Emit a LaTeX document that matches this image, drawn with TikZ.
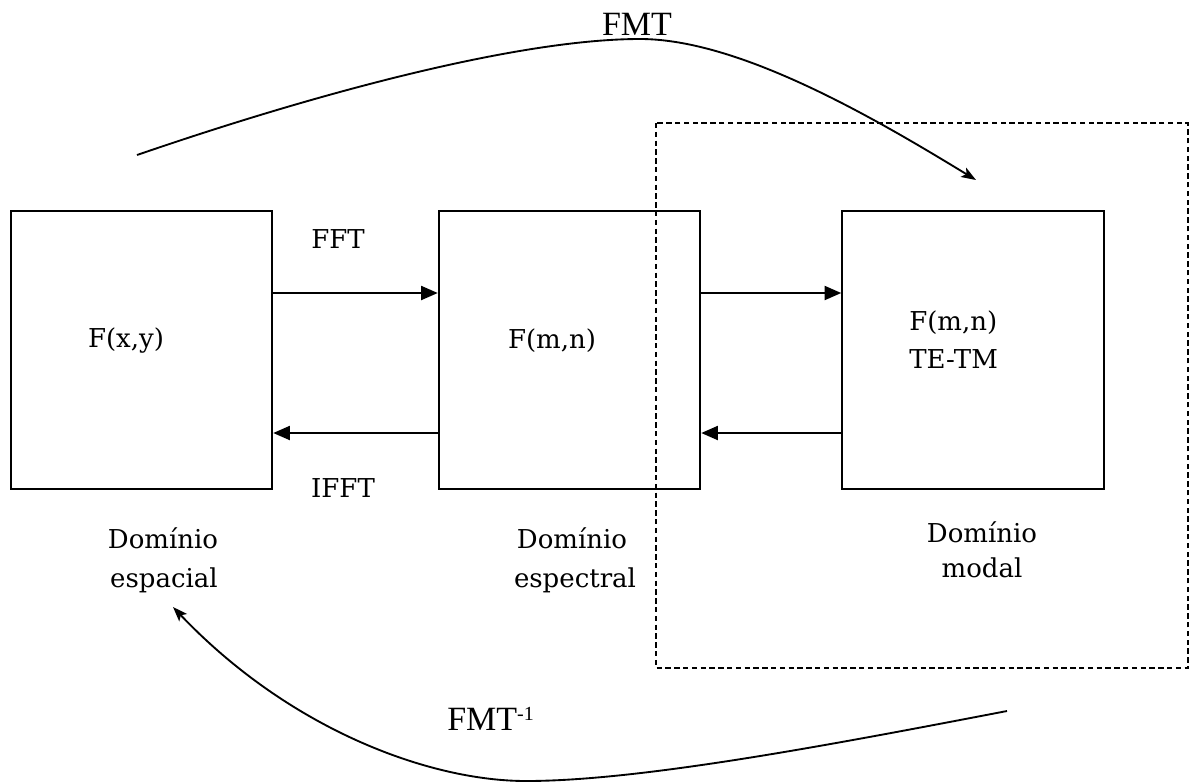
\documentclass[tikz,border=0pt]{standalone}
\usepackage{fontspec}
\newfontfamily\labelfont{DejaVu Serif}
\newfontfamily\titlefont{Liberation Serif}
\usetikzlibrary{arrows.meta}
\begin{document}
\begin{tikzpicture}[x=0.75pt,y=-0.75pt,
  blockbox/.style={draw, line width=1.6pt, inner sep=0pt,
    minimum width=196pt, minimum height=208.5pt},
  link/.style={line width=1.5pt, -{Triangle[length=12.5pt,width=10.5pt]}},
  curve/.style={line width=1.4pt, -{Stealth[length=11pt,width=8pt,inset=2.5pt]}},
  frame/.style={line width=1.1pt, dash pattern=on 4pt off 2.6pt},
  lbl/.style={font=\labelfont\fontsize{19.5}{28}\selectfont, inner sep=0pt, anchor=base},
  big/.style={font=\titlefont\fontsize{25.5}{28}\selectfont, inner sep=0pt, anchor=base}]

  \fill[white] (0,0) rectangle (1191,783);
  \useasboundingbox (0,0) rectangle (1191,783);

  % the three domain blocks
  \node[blockbox] (esp) at (141.5,350) {};
  \node[blockbox] (spec) at (569.5,350) {};
  \node[blockbox] (modal) at (973,350) {};

  % modal domain region
  \draw[frame] (656,123) rectangle (1188,668);

  % forward / inverse rows
  \coordinate (fwd) at (0,293);
  \coordinate (inv) at (0,433);
  \draw[link] (esp.east |- fwd) -- (spec.west |- fwd);
  \draw[link] (spec.west |- inv) -- (esp.east |- inv);
  \draw[link] (spec.east |- fwd) -- (modal.west |- fwd);
  \draw[link] (modal.west |- inv) -- (spec.east |- inv);

  % block contents
  \node[lbl] (fxy) at (126,347) {F(x,y)};
  \node[lbl] (fmn) at (552,348) {F(m,n)};
  \node[lbl, anchor=base west] (fmnm) at (909,330) {F(m,n)};
  \node[lbl, anchor=base west] (tetm) at (909,368) {TE-TM};

  % transform names
  \node[lbl] (fft) at (338,248) {FFT};
  \node[lbl] (ifft) at (343,497) {IFFT};

  % domain captions
  \node[lbl] (d1a) at (163,548) {Domínio};
  \node[lbl] (d1b) at (164,587) {espacial};
  \node[lbl] (d2a) at (572,548) {Domínio};
  \node[lbl] (d2b) at (575,587) {espectral};
  \node[lbl] (d3a) at (982,542) {Domínio};
  \node[lbl] (d3b) at (982,577) {modal};

  % direct modal transform and its inverse
  \coordinate (fmtStart) at (137,155);
  \coordinate (fmtTop) at (640,39);
  \coordinate (fmtEnd) at (976,180);
  \draw[curve] (fmtStart) .. controls (320,92) and (520,39) .. (fmtTop)
    .. controls (740,39) and (876,119) .. (fmtEnd);
  \node[big] (fmt) at (637,35) {FMT};

  \coordinate (invStart) at (1007,711);
  \coordinate (invLow) at (526,781);
  \coordinate (invEnd) at (173,607);
  \draw[curve] (invStart) .. controls (830,745) and (640,781) .. (invLow)
    .. controls (430,781) and (290,730) .. (invEnd);
  \node[big, anchor=base west] (fmtinv) at (447,730)
    {FMT\raisebox{7.5pt}{\fontsize{15}{15}\selectfont -1}};
\end{tikzpicture}
\end{document}
